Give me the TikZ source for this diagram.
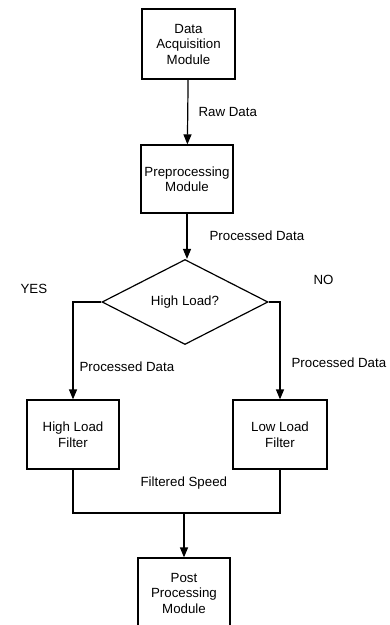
\documentclass[tikz,border=0pt]{standalone}
\usepackage{fontspec}
\setmainfont{Liberation Sans}
\usepackage{tikz}
\usetikzlibrary{arrows.meta}
\usetikzlibrary{shapes.geometric}

\begin{document}
\begin{tikzpicture}[x=1pt,y=-1pt,>={Triangle[length=10pt,width=8pt]},line width=1.2pt,
  every node/.style={font=\fontsize{13.3}{15.5}\selectfont},
  main box/.style={rectangle,draw,align=center,minimum width=92pt,minimum height=69pt,inner sep=0pt},
  decision/.style={diamond,draw,minimum width=166pt,minimum height=85pt,inner sep=0pt},
  tag/.style={anchor=west,inner sep=0pt}]

  \useasboundingbox (0,0) rectangle (389,625);

  \node[main box, minimum width=93pt, minimum height=70pt] (acq) at (188.5,44) {Data\\Acquisition\\Module};
  \node[main box, minimum height=68pt] (pre) at (187,179) {Preprocessing\\Module};
  \node[decision] (load) at (185,302) {High Load?};
  \node[main box] (high) at (73,434.5) {High Load\\Filter};
  \node[main box, minimum width=94pt] (low) at (280,434.5) {Low Load\\Filter};
  \node[main box, minimum height=70pt] (post) at (184,593) {Post\\Processing\\Module};
  \coordinate (join) at (184,513);

  % connectors
  \draw[->] (acq) -- (pre);
  \draw[->] (pre.south) -- (pre.south |- load.north);
  \draw[->] (load.west) -| (high.north);
  \draw[->] (load.east) -| (low.north);
  \draw (high.south) |- (join) -| (low.south);
  \draw[->] (join) -- (post);

  % labels
  \node[tag] (rawlbl) at (198,112) {Raw Data};
  \node[tag] (prelbl) at (209,236) {Processed Data};
  \node[tag] (yes) at (20,289) {YES};
  \node[tag] (no) at (313,280) {NO};
  \node[tag] (highlbl) at (79,367) {Processed Data};
  \node[tag] (lowlbl) at (291,363) {Processed Data};
  \node[tag] (speed) at (140,483) {Filtered Speed};

\end{tikzpicture}
\end{document}
